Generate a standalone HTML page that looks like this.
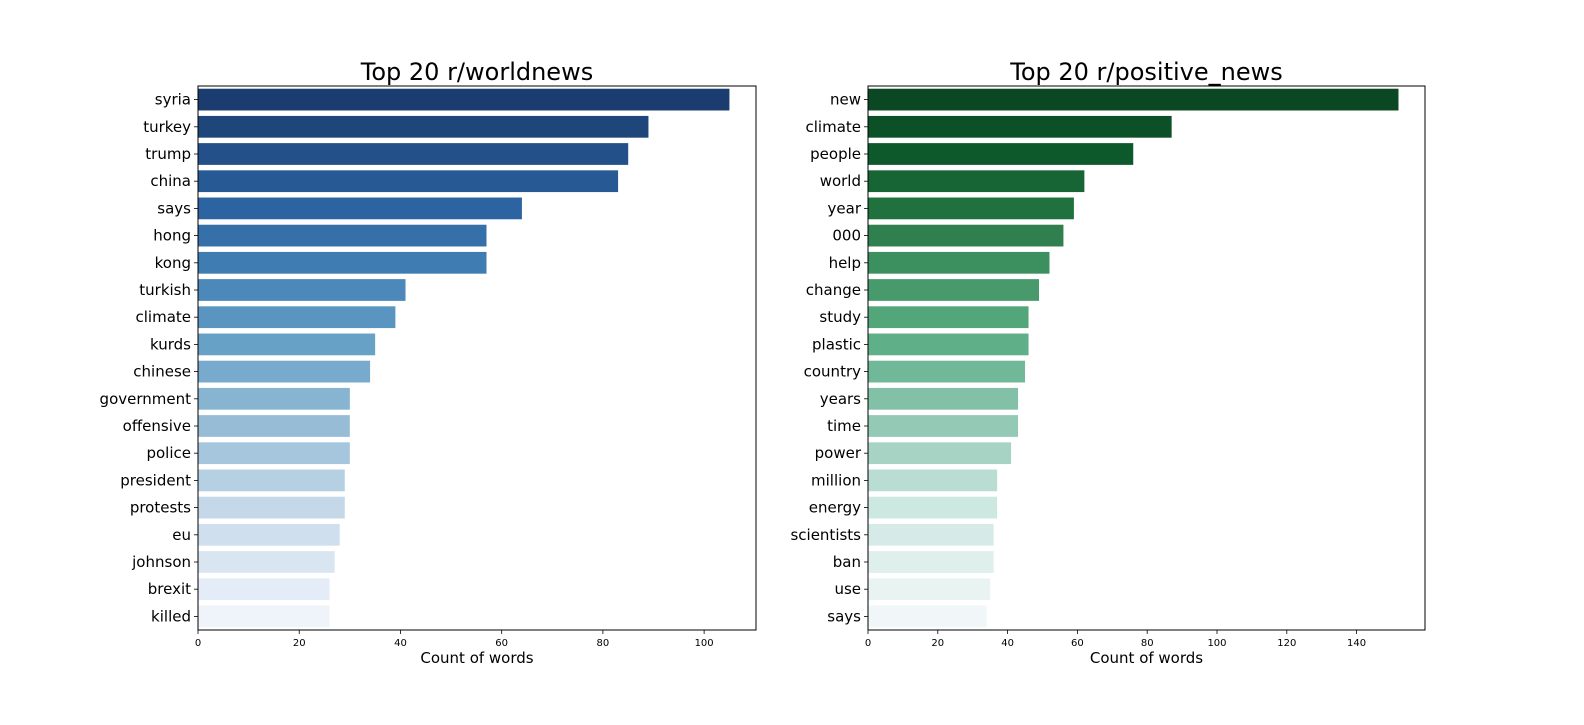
<!DOCTYPE html>
<html><head><meta charset="utf-8"><style>
body{margin:0;background:#fff;}
svg text{font-family:"DejaVu Sans","Liberation Sans",sans-serif;}
</style></head><body>
<svg id="c" width="1584" height="720" xmlns="http://www.w3.org/2000/svg"></svg>
<script>
const leftWords=["syria","turkey","trump","china","says","hong","kong","turkish","climate","kurds","chinese","government","offensive","police","president","protests","eu","johnson","brexit","killed"];
const leftCounts=[105,89,85,83,64,57,57,41,39,35,34,30,30,30,29,29,28,27,26,26];
const rightWords=["new","climate","people","world","year","000","help","change","study","plastic","country","years","time","power","million","energy","scientists","ban","use","says"];
const rightCounts=[152,87,76,62,59,56,52,49,46,46,45,43,43,41,37,37,36,36,35,34];
const leftTicks=[0,20,40,60,80,100];
const rightTicks=[0,20,40,60,80,100,120,140];
const NS="http://www.w3.org/2000/svg";
const svg=document.getElementById('c');
function mk(t,a,txt){const e=document.createElementNS(NS,t);for(const k in a)e.setAttribute(k,a[k]);if(txt!==undefined)e.textContent=txt;svg.appendChild(e);return e;}
function hex(h){return [1,3,5].map(i=>parseInt(h.substr(i,2),16));}
function interp(stops,t){for(let i=0;i<stops.length-1;i++){if(t<=stops[i+1][0]){const f=(t-stops[i][0])/(stops[i+1][0]-stops[i][0]);const a=hex(stops[i][1]),b=hex(stops[i+1][1]);return 'rgb('+a.map((v,j)=>Math.round(v+(b[j]-v)*f)).join(',')+')';}}return stops[stops.length-1][1];}
const blue=[[0,'#1b3c6f'],[0.21,'#2b64a0'],[0.32,'#3f7db3'],[0.47,'#66a0c6'],[0.63,'#97bdd6'],[0.79,'#c4d8ea'],[1,'#eff4fb']];
const green=[[0,'#0b4723'],[0.11,'#0e5a2c'],[0.21,'#21713e'],[0.32,'#3d9160'],[0.47,'#5eae87'],[0.63,'#93c9b6'],[0.79,'#cde7e1'],[1,'#f1f7f8']];
function panel(x0,x1,y0,y1,words,counts,ticks,pal,title,prefix){
  const max=Math.max(...counts)*1.05;
  const xs=v=>x0+(v/max)*(x1-x0);
  const band=(y1-y0)/words.length;
  mk('text',{x:(x0+x1)/2,y:y0-6,'text-anchor':'middle','font-size':'24',},title);
  words.forEach((w,i)=>{
    const yc=y0+band*(i+0.5);
    const r=mk('rect',{x:xs(0),y:yc-band*0.4,width:xs(counts[i])-xs(0),height:band*0.8,fill:interp(pal,i/(words.length-1))});
    
    
    mk('line',{x1:x0-4,x2:x0,y1:yc,y2:yc,stroke:'#000','stroke-width':0.8});
    const t=mk('text',{x:x0-7,y:yc+5,'text-anchor':'end','font-size':'15'},w);
    
    
  });
  ticks.forEach(v=>{
    const x=xs(v);
    mk('line',{x1:x,x2:x,y1:y1,y2:y1+4,stroke:'#000','stroke-width':0.8});
    const t=mk('text',{x:x,y:y1+16,'text-anchor':'middle','font-size':'10'},v);
    
    
  });
  mk('rect',{x:x0,y:y0,width:x1-x0,height:y1-y0,fill:'none',stroke:'#000','stroke-width':1,});
  mk('text',{x:(x0+x1)/2,y:y1+33,'text-anchor':'middle','font-size':'15',},'Count of words');
}
panel(198,756,86,630,leftWords,leftCounts,leftTicks,blue,'Top 20 r/worldnews','left');
panel(868,1425,86,630,rightWords,rightCounts,rightTicks,green,'Top 20 r/positive_news','right');
</script>
</body></html>
